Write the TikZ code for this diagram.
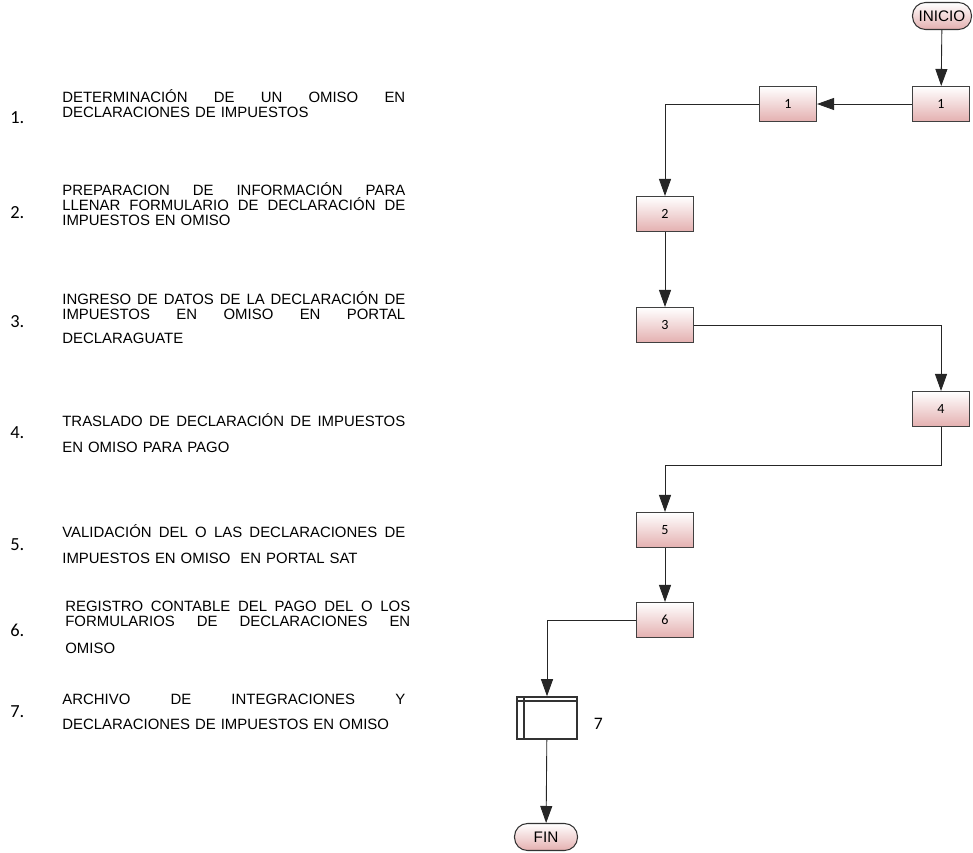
\documentclass[tikz,border=0pt]{standalone}
\usepackage{fontspec}
\setmainfont{Liberation Sans}
\newfontfamily\carlito{Carlito}
\usetikzlibrary{arrows.meta, positioning}

\definecolor{boxpink}{RGB}{228,176,176}
% justified line: spaces stretched to the full width
\newcommand{\jl}[2][6.86cm]{\makebox[#1][s]{\spaceskip=0pt\xspaceskip=0pt #2}}

\begin{document}
\begin{tikzpicture}[
    x=0.02cm, y=-0.02cm,
    proc/.style={rectangle, draw=black!75, line width=0.6pt, top color=white, bottom color=boxpink,
        minimum width=1.14cm, minimum height=0.70cm, inner sep=0pt, font=\carlito\fontsize{8}{9}\selectfont},
    term/.style={rectangle, rounded corners=0.26cm, draw=black!80, line width=0.6pt, top color=white,
        bottom color=boxpink, minimum height=0.54cm, inner sep=1pt, font=\fontsize{8.7}{9}\selectfont},
    store/.style={rectangle, draw=black!80, line width=0.9pt, fill=white, minimum width=1.2cm, minimum height=0.84cm},
    flow/.style={draw=black!85, line width=0.5pt, -{Triangle[length=0.34cm, width=0.24cm]}},
    num/.style={anchor=west, inner sep=0pt, font=\carlito\fontsize{10.5}{11}\selectfont},
    desc/.style={anchor=base west, inner sep=0pt, align=left, text width=7cm, font=\fontsize{8.5}{8.8}\selectfont}
]
    \useasboundingbox (0,0) rectangle (973,852);

    % list of activities
    \node[num] (n1) at (10,118) {1.};
    \node[desc] (d1) at (62,102) {\jl{DETERMINACIÓN DE UN OMISO EN}\\ DECLARACIONES DE IMPUESTOS};
    \node[num] (n2) at (10,213) {2.};
    \node[desc] (d2) at (62,195) {\jl{PREPARACION DE INFORMACIÓN PARA}\\ \jl{LLENAR FORMULARIO DE DECLARACIÓN DE}\\ IMPUESTOS EN OMISO};
    \node[num] (n3) at (10,322) {3.};
    \node[desc] (d3) at (62,304) {\jl{INGRESO DE DATOS DE LA DECLARACIÓN DE}\\ \jl{IMPUESTOS EN OMISO EN PORTAL}\\[5pt] DECLARAGUATE};
    \node[num] (n4) at (10,433) {4.};
    \node[desc] (d4) at (62,426) {\jl{TRASLADO DE DECLARACIÓN DE IMPUESTOS}\\[6pt] EN OMISO PARA PAGO};
    \node[num] (n5) at (10,545) {5.};
    \node[desc] (d5) at (62,537) {\jl{VALIDACIÓN DEL O LAS DECLARACIONES DE}\\[6pt] IMPUESTOS EN OMISO \ EN PORTAL SAT};
    \node[num] (n6) at (10,630) {6.};
    \node[desc] (d6) at (65,611) {\jl[6.9cm]{REGISTRO CONTABLE DEL PAGO DEL O LOS}\\ \jl[6.9cm]{FORMULARIOS DE DECLARACIONES EN}\\[6.5pt] OMISO};
    \node[num] (n7) at (10,712) {7.};
    \node[desc] (d7) at (62,704) {\jl{ARCHIVO DE INTEGRACIONES Y}\\[5.5pt] DECLARACIONES DE IMPUESTOS EN OMISO};

    % flow chart
    \node[term, minimum width=1.18cm] (inicio) at (942,16) {INICIO};
    \node[proc] (p1b) at (941,104) {1};
    \node[proc] (p1a) at (788,104) {1};
    \node[proc] (p2) at (665,214) {2};
    \node[proc] (p3) at (665,325) {3};
    \node[proc] (p4) at (941,409) {4};
    \node[proc] (p5) at (665,530) {5};
    \node[proc] (p6) at (665,620) {6};
    \node[store] (p7) at (547,718) {};
    \draw[draw=black!80, line width=0.9pt] ([yshift=-0.1cm]p7.north west) -- ([yshift=-0.1cm]p7.north east);
    \draw[draw=black!80, line width=0.9pt] ([xshift=0.16cm]p7.north west) -- ([xshift=0.16cm]p7.south west);
    \node[right=0.2cm of p7, yshift=-0.12cm, font=\carlito\fontsize{10}{11}\selectfont] (lbl7) {7};
    \node[term, minimum width=1.26cm] (fin) at (546,837) {FIN};

    \draw[flow] (inicio) -- (p1b);
    \draw[flow] (p1b) -- (p1a);
    \draw[flow] (p1a.west) -| (p2.north);
    \draw[flow] (p2) -- (p3);
    \draw[flow] (p3.east) -| (p4.north);
    \draw[flow] (p4.south) -- ++(0,38) -| (p5.north);
    \draw[flow] (p5) -- (p6);
    \draw[flow] (p6.west) -| (p7.north);
    \draw[flow] (p7) -- (fin);
\end{tikzpicture}
\end{document}
